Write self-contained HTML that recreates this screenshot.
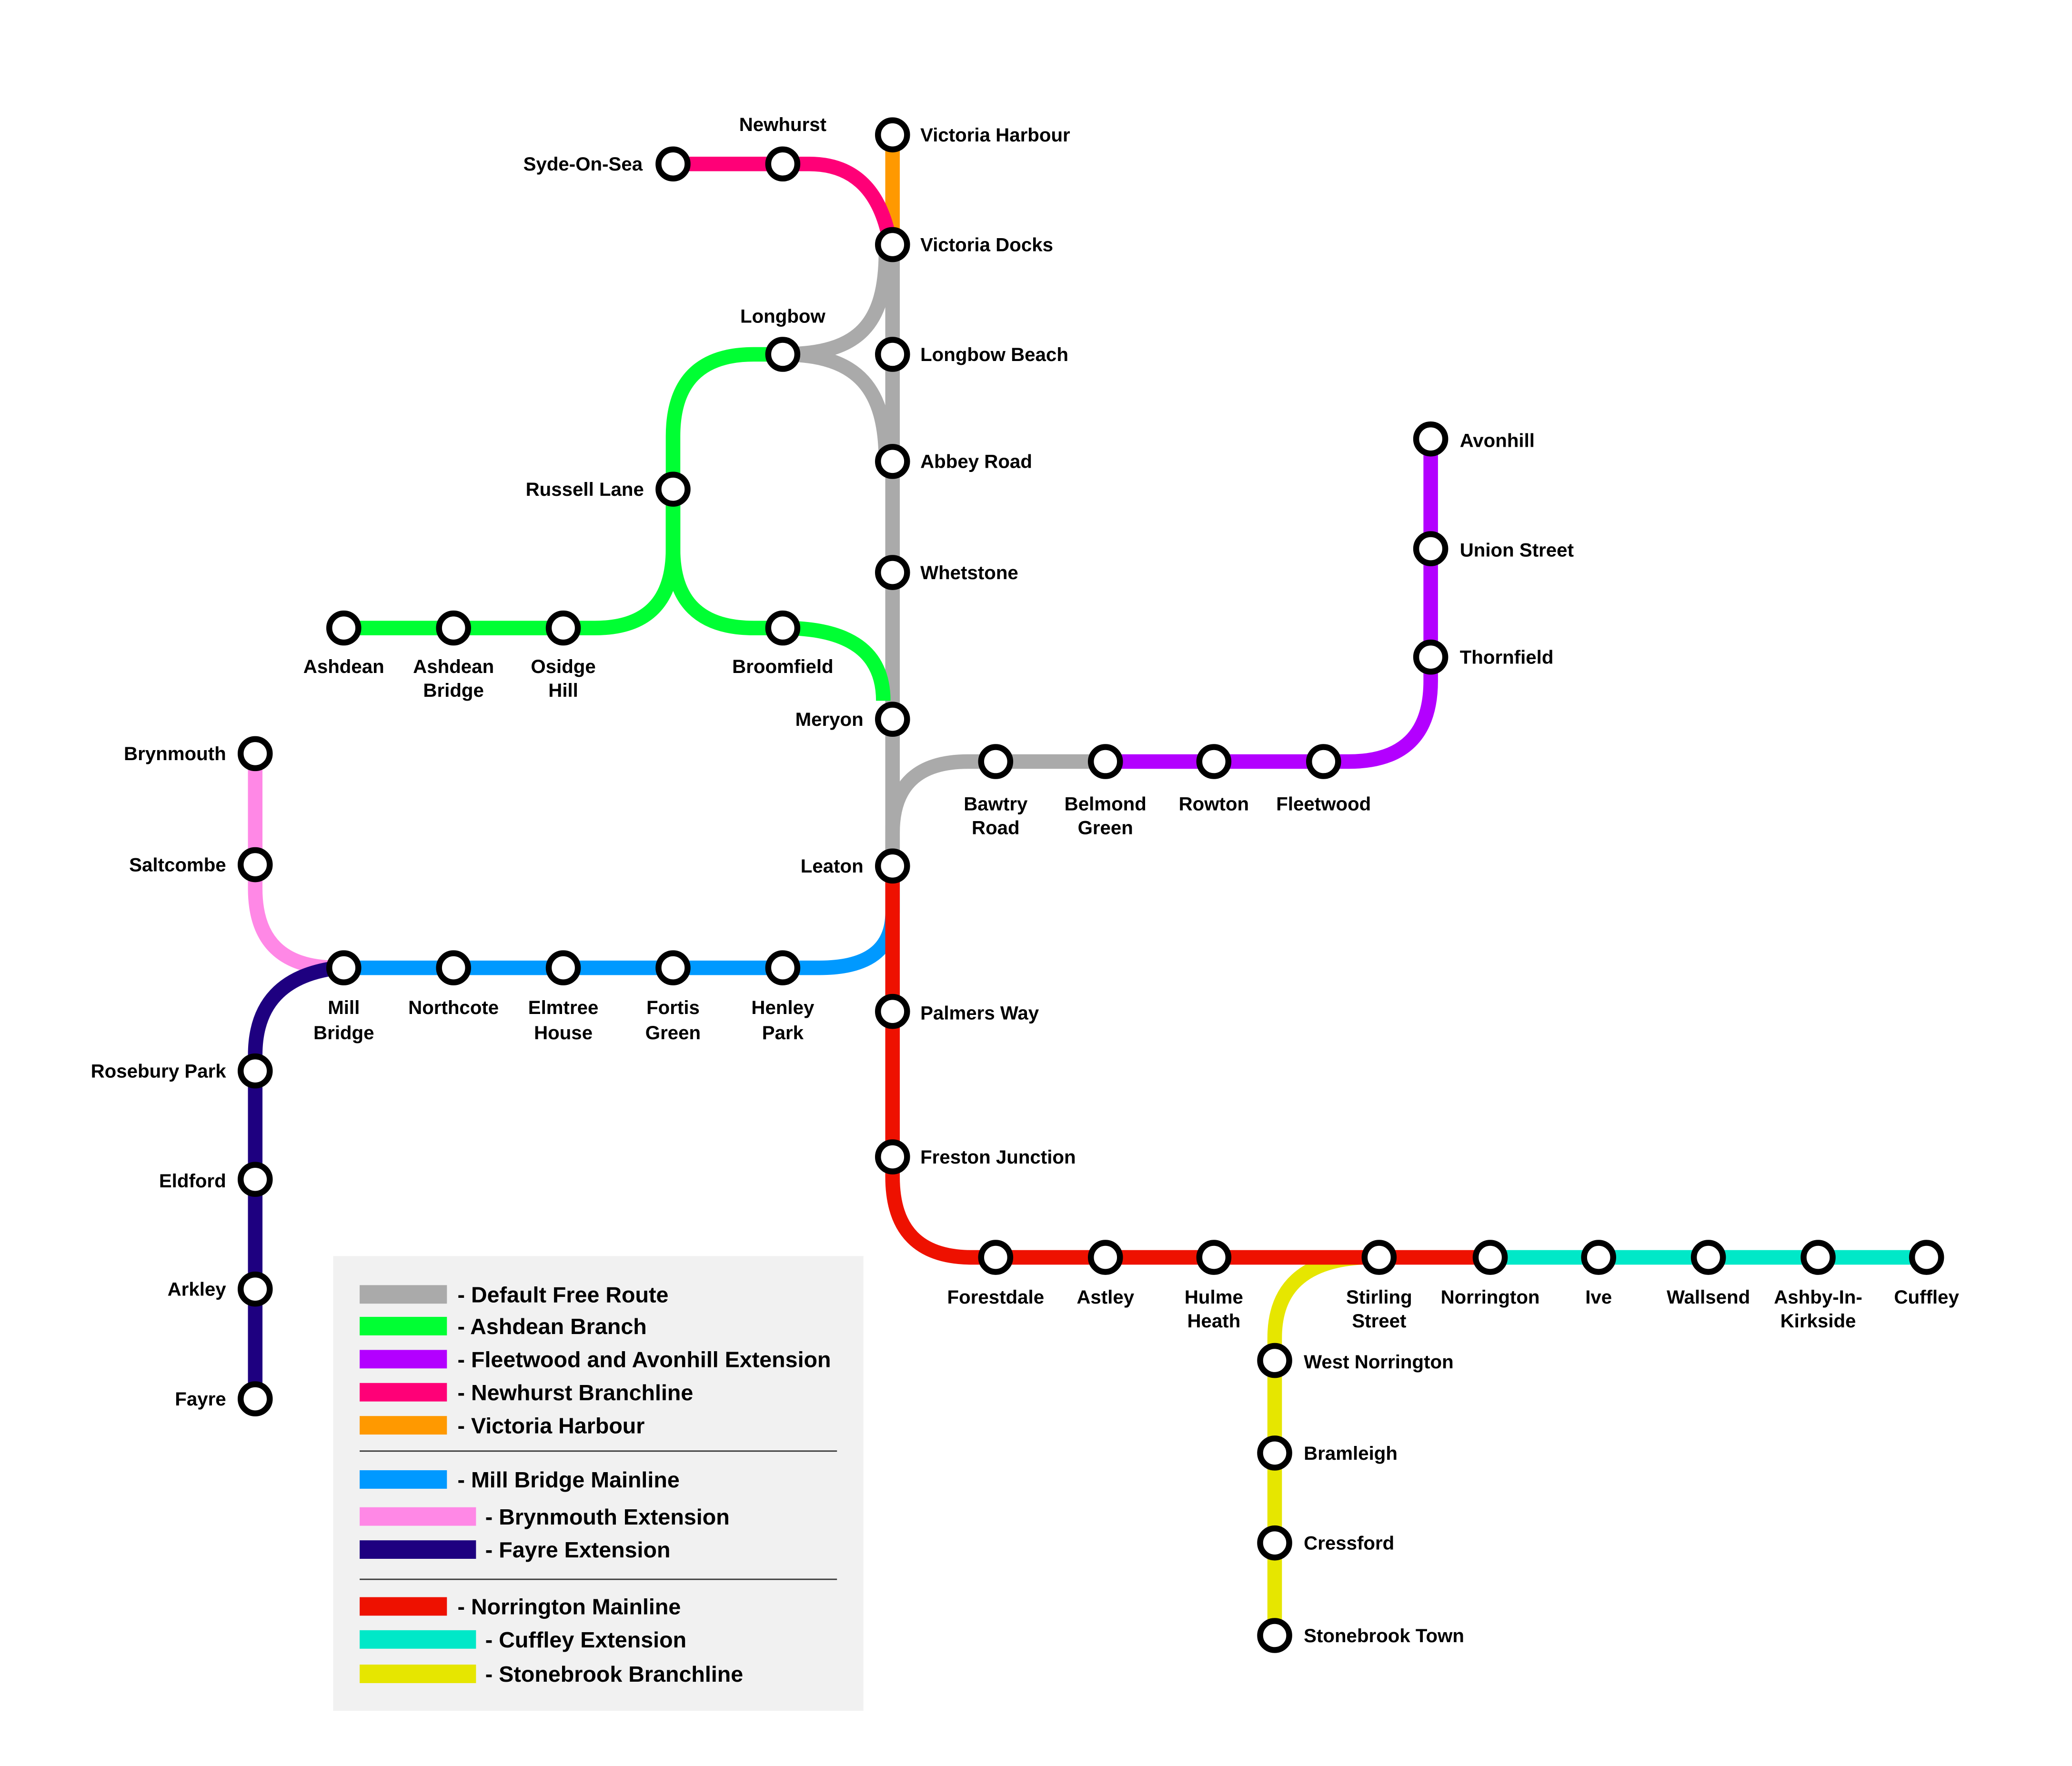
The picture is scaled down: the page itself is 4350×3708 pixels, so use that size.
<!DOCTYPE html>
<html><head><meta charset="utf-8"><style>
html,body{margin:0;padding:0;background:#fff;width:4350px;height:3708px;overflow:hidden}
svg{display:block}
text{font-family:"Liberation Sans",sans-serif;font-weight:bold;font-size:14.5px;fill:#000}
.l{text-anchor:end}.m{text-anchor:middle}
.lg text{font-size:16.8px}
</style></head><body>
<svg width="4350" height="3708" viewBox="0 0 1567 1335.7" preserveAspectRatio="none" xmlns="http://www.w3.org/2000/svg">
<rect width="1567" height="1336" fill="#fff"/>
<g fill="none" stroke-width="11">
<path d="M675,102 L675,180" stroke="#ff9900"/>
<path d="M509,124 L612,124 Q660,124 672,178" stroke="#ff0077"/>
<path d="M592,268 C650,268 670,245 670,190" stroke="#aaaaaa"/>
<path d="M592,268 C650,268 670,295 670,349" stroke="#aaaaaa"/>
<path d="M675,185 L675,655" stroke="#aaaaaa"/>
<path d="M675,655 L675,630 Q675,576 732,576 L836,576" stroke="#aaaaaa"/>
<path d="M260,475 L450,475 Q509,475 509,415 L509,330 Q509,268 570,268 L592,268" stroke="#00ff33"/>
<path d="M509,370 L509,415 Q509,475 570,475 L592,475 Q668,475 668,530" stroke="#00ff33"/>
<path d="M836,576 L1020,576 Q1082,576 1082,515 L1082,332" stroke="#b300ff"/>
<path d="M193,570 L193,672 Q193,732 255,732" stroke="#ff88e6"/>
<path d="M255,732 Q193,740 193,798 L193,1058" stroke="#1e0080"/>
<path d="M675,655 L675,690 Q675,732 620,732 L260,732" stroke="#0099ff"/>
<path d="M1127,951 L1457,951" stroke="#00e8c8"/>
<path d="M1030,951 Q964,955 964,1012 L964,1237" stroke="#e6e600"/>
<path d="M675,655 L675,890 Q675,951 735,951 L1127,951" stroke="#ee1100"/>
</g>
<g fill="#fff" stroke="#000" stroke-width="4.5">
<circle cx="509" cy="124" r="11"/><circle cx="592" cy="124" r="11"/><circle cx="675" cy="102" r="11"/><circle cx="675" cy="185" r="11"/>
<circle cx="592" cy="268" r="11"/><circle cx="675" cy="268" r="11"/><circle cx="675" cy="349" r="11"/><circle cx="675" cy="433" r="11"/>
<circle cx="509" cy="370" r="11"/><circle cx="260" cy="475" r="11"/><circle cx="343" cy="475" r="11"/><circle cx="426" cy="475" r="11"/><circle cx="592" cy="475" r="11"/>
<circle cx="675" cy="544" r="11"/><circle cx="675" cy="655" r="11"/>
<circle cx="753" cy="576" r="11"/><circle cx="836" cy="576" r="11"/><circle cx="918" cy="576" r="11"/><circle cx="1001" cy="576" r="11"/>
<circle cx="1082" cy="497" r="11"/><circle cx="1082" cy="415" r="11"/><circle cx="1082" cy="332" r="11"/>
<circle cx="193" cy="570" r="11"/><circle cx="193" cy="654" r="11"/>
<circle cx="260" cy="732" r="11"/><circle cx="343" cy="732" r="11"/><circle cx="426" cy="732" r="11"/><circle cx="509" cy="732" r="11"/><circle cx="592" cy="732" r="11"/>
<circle cx="193" cy="810" r="11"/><circle cx="193" cy="892" r="11"/><circle cx="193" cy="975" r="11"/><circle cx="193" cy="1058" r="11"/>
<circle cx="675" cy="765" r="11"/><circle cx="675" cy="875" r="11"/>
<circle cx="753" cy="951" r="11"/><circle cx="836" cy="951" r="11"/><circle cx="918" cy="951" r="11"/><circle cx="1043" cy="951" r="11"/><circle cx="1127" cy="951" r="11"/>
<circle cx="1209" cy="951" r="11"/><circle cx="1292" cy="951" r="11"/><circle cx="1375" cy="951" r="11"/><circle cx="1457" cy="951" r="11"/>
<circle cx="964" cy="1029" r="11"/><circle cx="964" cy="1099" r="11"/><circle cx="964" cy="1167" r="11"/><circle cx="964" cy="1237" r="11"/>
</g>
<g>
<text class="l" x="486" y="129">Syde-On-Sea</text>
<text class="m" x="592" y="99">Newhurst</text>
<text x="696" y="107">Victoria Harbour</text>
<text x="696" y="190">Victoria Docks</text>
<text class="m" x="592" y="244">Longbow</text>
<text x="696" y="273">Longbow Beach</text>
<text x="696" y="354">Abbey Road</text>
<text x="696" y="438">Whetstone</text>
<text class="l" x="487" y="375">Russell Lane</text>
<text class="m" x="260" y="509">Ashdean</text>
<text class="m" x="343" y="509">Ashdean</text><text class="m" x="343" y="527">Bridge</text>
<text class="m" x="426" y="509">Osidge</text><text class="m" x="426" y="527">Hill</text>
<text class="m" x="592" y="509">Broomfield</text>
<text class="l" x="653" y="549">Meryon</text>
<text class="l" x="653" y="660">Leaton</text>
<text class="m" x="753" y="613">Bawtry</text><text class="m" x="753" y="631">Road</text>
<text class="m" x="836" y="613">Belmond</text><text class="m" x="836" y="631">Green</text>
<text class="m" x="918" y="613">Rowton</text>
<text class="m" x="1001" y="613">Fleetwood</text>
<text x="1104" y="502">Thornfield</text>
<text x="1104" y="421">Union Street</text>
<text x="1104" y="338">Avonhill</text>
<text class="l" x="171" y="575">Brynmouth</text>
<text class="l" x="171" y="659">Saltcombe</text>
<text class="m" x="260" y="767">Mill</text><text class="m" x="260" y="786">Bridge</text>
<text class="m" x="343" y="767">Northcote</text>
<text class="m" x="426" y="767">Elmtree</text><text class="m" x="426" y="786">House</text>
<text class="m" x="509" y="767">Fortis</text><text class="m" x="509" y="786">Green</text>
<text class="m" x="592" y="767">Henley</text><text class="m" x="592" y="786">Park</text>
<text class="l" x="171" y="815">Rosebury Park</text>
<text class="l" x="171" y="898">Eldford</text>
<text class="l" x="171" y="980">Arkley</text>
<text class="l" x="171" y="1063">Fayre</text>
<text x="696" y="771">Palmers Way</text>
<text x="696" y="880">Freston Junction</text>
<text class="m" x="753" y="986">Forestdale</text>
<text class="m" x="836" y="986">Astley</text>
<text class="m" x="918" y="986">Hulme</text><text class="m" x="918" y="1004">Heath</text>
<text class="m" x="1043" y="986">Stirling</text><text class="m" x="1043" y="1004">Street</text>
<text class="m" x="1127" y="986">Norrington</text>
<text class="m" x="1209" y="986">Ive</text>
<text class="m" x="1292" y="986">Wallsend</text>
<text class="m" x="1375" y="986">Ashby-In-</text><text class="m" x="1375" y="1004">Kirkside</text>
<text class="m" x="1457" y="986">Cuffley</text>
<text x="986" y="1035">West Norrington</text>
<text x="986" y="1104">Bramleigh</text>
<text x="986" y="1172">Cressford</text>
<text x="986" y="1242">Stonebrook Town</text>
</g>
<g class="lg">
<rect x="252" y="950" width="401" height="344" fill="#f1f1f1"/>
<rect x="272" y="972" width="66" height="14" fill="#aaaaaa"/><text x="346" y="985">- Default Free Route</text>
<rect x="272" y="996" width="66" height="14" fill="#00ff33"/><text x="346" y="1009">- Ashdean Branch</text>
<rect x="272" y="1021" width="66" height="14" fill="#b300ff"/><text x="346" y="1034">- Fleetwood and Avonhill Extension</text>
<rect x="272" y="1046" width="66" height="14" fill="#ff0077"/><text x="346" y="1059">- Newhurst Branchline</text>
<rect x="272" y="1071" width="66" height="14" fill="#ff9900"/><text x="346" y="1084">- Victoria Harbour</text>
<line x1="272" y1="1097.5" x2="633" y2="1097.5" stroke="#333" stroke-width="1"/>
<rect x="272" y="1112" width="66" height="14" fill="#0099ff"/><text x="346" y="1125">- Mill Bridge Mainline</text>
<rect x="272" y="1140" width="88" height="14" fill="#ff88e6"/><text x="367" y="1153">- Brynmouth Extension</text>
<rect x="272" y="1165" width="88" height="14" fill="#1e0080"/><text x="367" y="1178">- Fayre Extension</text>
<line x1="272" y1="1194.5" x2="633" y2="1194.5" stroke="#333" stroke-width="1"/>
<rect x="272" y="1208" width="66" height="14" fill="#ee1100"/><text x="346" y="1221">- Norrington Mainline</text>
<rect x="272" y="1233" width="88" height="14" fill="#00e8c8"/><text x="367" y="1246">- Cuffley Extension</text>
<rect x="272" y="1259" width="88" height="14" fill="#e6e600"/><text x="367" y="1272">- Stonebrook Branchline</text>
</g>
</svg>
</body></html>
